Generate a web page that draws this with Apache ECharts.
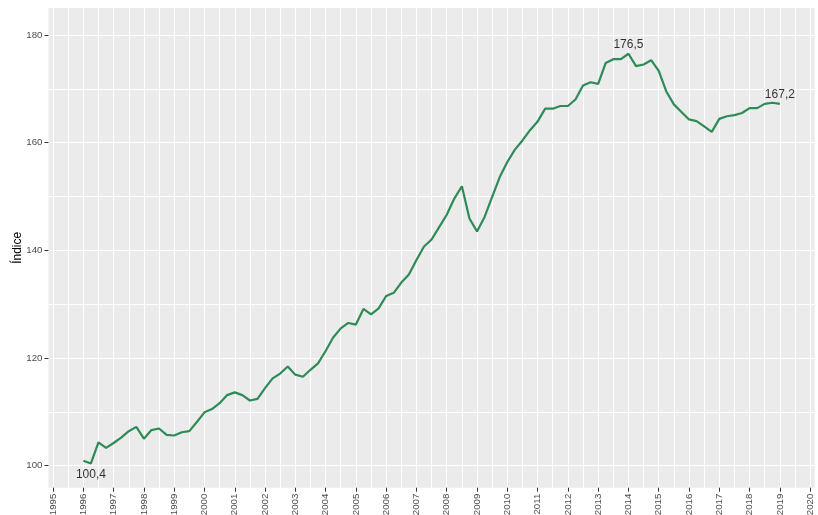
<!DOCTYPE html>
<html>
<head>
<meta charset="utf-8">
<script src="https://cdn.jsdelivr.net/npm/echarts@6/dist/echarts.min.js"></script>
<style>
  html, body { margin: 0; padding: 0; background: #fff; }
  #chart { width: 818px; height: 515px; }
</style>
</head>
<body>
<div id="chart"></div>
<script>
// quarterly index, first value = 1996 Q1
const startYear = 1996;
const indexValues = [
  100.9, 100.4, 104.3, 103.3,
  104.2, 105.2, 106.4, 107.2,
  105.0, 106.6, 106.9, 105.7,
  105.6, 106.2, 106.4, 108.1,
  109.9, 110.5, 111.6, 113.1,
  113.6, 113.1, 112.1, 112.4,
  114.4, 116.2, 117.1, 118.4,
  116.9, 116.5, 117.8, 119.0,
  121.3, 123.8, 125.5, 126.5,
  126.2, 129.1, 128.1, 129.2,
  131.5, 132.1, 134.0, 135.5,
  138.2, 140.7, 142.0, 144.3,
  146.6, 149.6, 151.9, 145.9,
  143.5, 146.2, 149.9, 153.6,
  156.4, 158.7, 160.4, 162.3,
  163.9, 166.3, 166.3, 166.8,
  166.8, 168.0, 170.6, 171.2,
  170.9, 174.8, 175.5, 175.5,
  176.5, 174.2, 174.5, 175.3,
  173.3, 169.5, 167.1, 165.7,
  164.3, 164.0, 163.0, 162.0,
  164.4, 164.9, 165.1, 165.5,
  166.4, 166.4, 167.2, 167.4,
  167.2
];
// points that carry a value label, and where the label goes
const labelIdx = [1, 72, 92];
const labelPos = ['bottom', 'top', 'top'];

const yearTicks = [1995, 1996, 1997, 1998, 1999, 2000, 2001, 2002, 2003, 2004, 2005, 2006, 2007,
                   2008, 2009, 2010, 2011, 2012, 2013, 2014, 2015, 2016, 2017, 2018, 2019, 2020];
const xGrid = [];
yearTicks.forEach((y, i) => { xGrid.push(y); if (i < yearTicks.length - 1) xGrid.push(y + 0.5); });
const yTicks = [100, 120, 140, 160, 180];
const yGrid = [100, 110, 120, 130, 140, 150, 160, 170, 180];

const seriesData = indexValues.map((v, i) => [startYear + i / 4, v]);
const labelData = labelIdx.map((idx, k) => ({
  value: seriesData[idx],
  label: { position: labelPos[k], distance: labelPos[k] === 'top' ? 3 : 5 }
}));

const xMin = 1994.85, xMax = 2020.15;
const yMin = 95.9, yMax = 185;
const font = 'Liberation Sans, Arial, sans-serif';

const chart = echarts.init(document.getElementById('chart'));
chart.setOption({
  animation: false,
  textStyle: { fontFamily: font },
  grid: {
    left: 48.5, right: 3.3, top: 8, bottom: 27.3,
    outerBoundsMode: 'none',
    show: true, backgroundColor: '#EBEBEB', borderWidth: 0
  },
  xAxis: [
    {
      type: 'value', min: xMin, max: xMax,
      axisLine: { show: false },
      axisTick: { show: true, length: 4, lineStyle: { color: '#333333' }, customValues: yearTicks },
      axisLabel: { rotate: 90, margin: 6, fontSize: 9.7, color: '#4D4D4D', customValues: yearTicks, formatter: v => String(v) },
      splitLine: { show: false }
    },
    {
      type: 'value', min: xMin, max: xMax, position: 'bottom',
      axisLine: { show: false },
      axisTick: { show: false, customValues: xGrid },
      axisLabel: { show: false, customValues: xGrid },
      splitLine: { show: true, lineStyle: { color: '#FFFFFF', width: 1 } }
    }
  ],
  yAxis: [
    {
      type: 'value', min: yMin, max: yMax,
      name: 'Índice', nameLocation: 'middle', nameRotate: 90, nameGap: 25,
      nameMoveOverlap: false,
      nameTextStyle: { fontSize: 12, color: '#000000', fontFamily: font },
      axisLine: { show: false },
      axisTick: { show: true, length: 4, lineStyle: { color: '#333333' }, customValues: yTicks },
      axisLabel: { margin: 6, fontSize: 9.7, color: '#4D4D4D', customValues: yTicks },
      splitLine: { show: false }
    },
    {
      type: 'value', min: yMin, max: yMax, position: 'left',
      axisLine: { show: false },
      axisTick: { show: false, customValues: yGrid },
      axisLabel: { show: false, customValues: yGrid },
      splitLine: { show: true, lineStyle: { color: '#FFFFFF', width: 1 } }
    }
  ],
  series: [
    {
      type: 'line',
      data: seriesData,
      showSymbol: false,
      lineStyle: { color: '#2E8B57', width: 2.2 },
      z: 3
    },
    {
      type: 'scatter',
      data: labelData,
      symbolSize: 0,
      itemStyle: { color: '#2E8B57' },
      label: {
        show: true, fontSize: 12, color: '#000000', fontFamily: font,
        formatter: p => p.value[1].toFixed(1).replace('.', ',')
      },
      z: 4
    }
  ]
});
</script>
</body>
</html>
